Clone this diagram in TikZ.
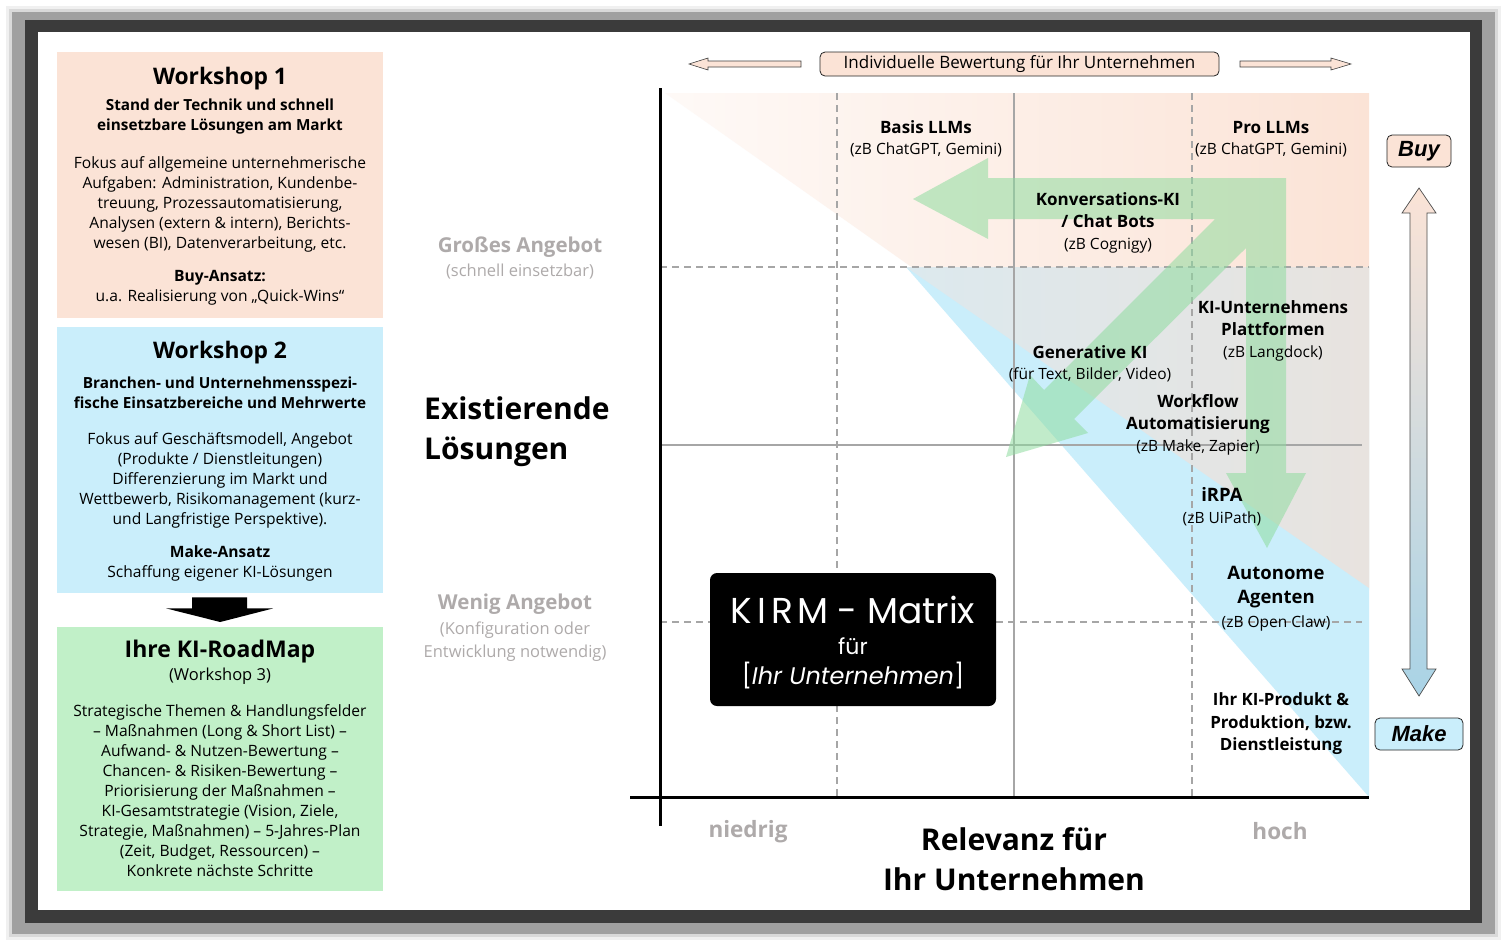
\documentclass[tikz,border=0pt]{standalone}
\usepackage{fontspec}
\setmainfont{Open Sans}
\newfontfamily\popfont{Poppins}
\newfontfamily\arialfont{Liberation Sans}
\usetikzlibrary{positioning,calc}
\definecolor{framedark}{HTML}{3B3B3B}
\definecolor{shadowgray}{HTML}{A0A0A0}
\definecolor{peachbg}{HTML}{FBE3D6}
\definecolor{bluebg}{HTML}{CAEEFB}
\definecolor{greenbg}{HTML}{C1F0C8}
\definecolor{gridgray}{HTML}{A6A6A6}
\definecolor{softgray}{HTML}{AEAAAA}
\definecolor{arrowgreen}{HTML}{8FDC9F}
\definecolor{makeblue}{HTML}{A9D3E6}
\newcommand{\fs}[2]{\fontsize{#1}{#2}\selectfont}
\newcommand{\msub}[1]{{\fs{15.5}{22}\mdseries #1}}
\tikzset{
  wsbox/.style={minimum width=326pt,inner sep=0pt,anchor=north west},
  wstitle/.style={font=\fs{22.8}{28}\bfseries,inner sep=0pt,yshift=-2.5pt},
  wssub/.style={font=\fs{15.3}{20}\bfseries,align=center,inner sep=0pt,yshift=-2.5pt},
  wsbody/.style={font=\fs{15.6}{20},align=center,inner sep=0pt,yshift=-2pt},
  sidelab/.style={font=\fs{20.5}{24}\bfseries,text=softgray,inner sep=0pt,yshift=-2pt},
  sidesub/.style={font=\fs{16.5}{23},text=softgray,align=center,inner sep=0pt,yshift=-1.5pt},
  biglab/.style={font=\fs{30}{40}\bfseries,align=left,inner sep=0pt},
  mlab/.style={font=\fs{17}{22}\bfseries,align=center,inner sep=0pt,yshift=-2pt},
  gridd/.style={gridgray,line width=1.5pt,dash pattern=on 7pt off 5pt},
  grids/.style={gridgray,line width=1.5pt},
  outarrow/.style={draw=black!75,line width=0.6pt,fill=peachbg},
  tagbox/.style={draw=black!85,rounded corners=5pt,line width=0.8pt,inner sep=0pt},
}
\begin{document}
\begin{tikzpicture}[x=1pt,y=-1pt]
  \useasboundingbox (0,0) rectangle (1507,943);
  % shadow and frame
  \fill[gray!12] (6,6) rectangle (1501,940);
  \fill[gray!30] (9,9) rectangle (1498,937);
  \fill[shadowgray] (12,12) rectangle (1495,934);
  \fill[framedark] (25,20) rectangle (1482,923);
  \fill[white] (38,32) rectangle (1470,910);

  % workshop column
  \node[wsbox,fill=peachbg,minimum height=266pt] (ws1) at (57,52) {};
  \node[wsbox,fill=bluebg,minimum height=266pt] (ws2) at (57,327) {};
  \node[wsbox,fill=greenbg,minimum height=264pt] (ws3) at (57,627) {};
  \node[wstitle] (ws1t) at (220,76) {Workshop 1};
  \node[wssub] (ws1s) at (220,114) {Stand der Technik und schnell\\einsetzbare Lösungen am Markt};
  \node[wsbody] (ws1b) at (220,202) {Fokus auf allgemeine unternehmerische\\Aufgaben: Administration, Kundenbe-\\treuung, Prozessautomatisierung,\\Analysen (extern \& intern), Berichts-\\wesen (BI), Datenverarbeitung, etc.};
  \node[wsbody] (ws1a) at (220,286) {\textbf{Buy-Ansatz:}\\u.a. Realisierung von „Quick-Wins“};
  \node[wstitle] (ws2t) at (220,350) {Workshop 2};
  \node[wssub] (ws2s) at (220,390) {Branchen- und Unternehmensspezi-\\fische Einsatzbereiche und Mehrwerte};
  \node[wsbody] (ws2b) at (220,478) {Fokus auf Geschäftsmodell, Angebot\\(Produkte / Dienstleitungen)\\Differenzierung im Markt und\\Wettbewerb, Risikomanagement (kurz-\\und Langfristige Perspektive).};
  \node[wsbody] (ws2a) at (220,561.5) {\textbf{Make-Ansatz}\\Schaffung eigener KI-Lösungen};
  \node[wstitle,font=\fs{23}{28}\bfseries] (ws3t) at (220,649) {Ihre KI-RoadMap};
  \node[wsbody,font=\fs{16.5}{20}] (ws3s) at (220,674) {(Workshop 3)};
  \node[wsbody] (ws3b) at (220,789) {Strategische Themen \& Handlungsfelder\\– Maßnahmen (Long \& Short List) –\\Aufwand- \& Nutzen-Bewertung –\\Chancen- \& Risiken-Bewertung –\\Priorisierung der Maßnahmen –\\KI-Gesamtstrategie (Vision, Ziele,\\Strategie, Maßnahmen) – 5-Jahres-Plan\\(Zeit, Budget, Ressourcen) –\\Konkrete nächste Schritte};
  \fill[black] ($(ws2.south)+(-28,4)$) -- ++(55,0) -- ++(0,11) -- ++(26,0)
    -- ($(ws3.north)+(0,-5)$) -- ($(ws2.south)+(-54,15)$) -- ++(26,0) -- cycle;

  % middle column
  \node[sidelab] (gross) at (520,245) {Großes Angebot};
  \node[sidesub] (grosss) at (520,270) {(schnell einsetzbar)};
  \node[biglab,anchor=west,yshift=-4pt] (exist) at (424,428) {Existierende\\Lösungen};
  \node[sidelab] (wenig) at (515,602) {Wenig Angebot};
  \node[sidesub] (wenigs) at (515,640) {(Konfiguration oder\\Entwicklung notwendig)};

  % matrix background
  \shade[left color=peachbg!20,right color=peachbg] (665,93) -- (1369,93) -- (1369,590) -- cycle;
  \fill[bluebg] (906,267) -- (1369,267) -- (1369,797) -- cycle;
  \shade[left color={rgb,255:red,220;green,233;blue,238},right color={rgb,255:red,232;green,227;blue,223}]
    (906,267) -- (1369,267) -- (1369,588) -- cycle;
  % grid
  \draw[gridd] (837,93) -- (837,797);
  \draw[grids] (1014,93) -- (1014,797);
  \draw[gridd] (1192,93) -- (1192,797);
  \draw[gridd] (660,267) -- (1369,267);
  \draw[grids] (660,445) -- (1362,445);
  \draw[gridd] (660,622) -- (1362,622);
  % green path arrows
  \fill[arrowgreen,fill opacity=0.55] (1286,178) -- (1286,473) -- (1306,473) -- (1267,548)
    -- (1226,473) -- (1246,473) -- (1246,248) -- (1074,419) -- (1088,433) -- (1006,457)
    -- (1030,375) -- (1044,390) -- (1215,219) -- (988,219) -- (988,239) -- (913,199)
    -- (988,158) -- (988,178) -- cycle;
  % axes
  \draw[line width=3pt] (660,88) -- (660,826);
  \draw[line width=3pt] (630,797) -- (1369,797);

  % matrix labels
  \node[mlab,font=\fs{17}{21}\bfseries] (basis) at (926,137) {Basis LLMs\\\msub{(zB ChatGPT, Gemini)}};
  \node[mlab,font=\fs{17}{21}\bfseries] (pro) at (1271,137) {Pro LLMs\\\msub{(zB ChatGPT, Gemini)}};
  \node[mlab] (konv) at (1108,221) {Konversations-KI\\/ Chat Bots\\\msub{(zB Cognigy)}};
  \node[mlab] (platt) at (1273,329) {KI-Unternehmens\\Plattformen\\\msub{(zB Langdock)}};
  \node[mlab,font=\fs{17}{21}\bfseries] (genki) at (1090,362) {Generative KI\\\msub{(für Text, Bilder, Video)}};
  \node[mlab] (workfl) at (1198,423) {Workflow\\Automatisierung\\\msub{(zB Make, Zapier)}};
  \node[mlab,font=\fs{18.5}{22}\bfseries] (irpa) at (1222,505) {iRPA\\\msub{(zB UiPath)}};
  \node[mlab,font=\fs{18.5}{24}\bfseries] (agent) at (1276,597) {Autonome\\Agenten\\\msub{(zB Open Claw)}};
  \node[mlab,font=\fs{16.9}{22.5}\bfseries] (produkt) at (1281,722) {Ihr KI-Produkt \&\\Produktion, bzw.\\Dienstleistung};

  % KIRM box
  \node[fill=black,rounded corners=7pt,minimum width=286pt,minimum height=133pt,inner sep=0pt] (kirm) at (853,639.5) {};
  \node[text=white,font=\popfont\fs{36}{40},inner sep=0pt] (kirmt) at (853,610) {K\hspace{5pt}I\hspace{5pt}R\hspace{4pt}M - Matrix};
  \node[text=white,font=\popfont\fs{22}{26},inner sep=0pt] (kirmf) at (853,646) {für};
  \node[text=white,font=\popfont\fs{24}{28},inner sep=0pt] (kirmu) at (853,676) {[\textit{Ihr Unternehmen}]};

  % bottom axis labels
  \node[sidelab,font=\fs{22.5}{24}\bfseries,yshift=-1pt] (low) at (748,829) {niedrig};
  \node[sidelab,font=\fs{22.5}{24}\bfseries] (high) at (1280,829) {hoch};
  \node[biglab,align=center] (relev) at (1014,859) {Relevanz für\\Ihr Unternehmen};

  % top scale
  \node[tagbox,fill=peachbg,minimum width=399pt,minimum height=24pt,font=\fs{17}{18}] (indiv) at (1019.5,64) {Individuelle Bewertung für Ihr Unternehmen};
  \draw[outarrow] (801,61) -- (708,61) -- (708,58) -- (689,64) -- (708,70) -- (708,67) -- (801,67) -- cycle;
  \draw[outarrow] (1240,61) -- (1331,61) -- (1331,58) -- (1351,64) -- (1331,70) -- (1331,67) -- (1240,67) -- cycle;

  % buy / make scale
  \node[tagbox,fill=peachbg,minimum width=64pt,minimum height=32pt,font=\arialfont\fs{22}{24}\bfseries\itshape] (buy) at (1419,151) {Buy};
  \node[tagbox,fill=bluebg,minimum width=88pt,minimum height=32pt,font=\arialfont\fs{22}{24}\bfseries\itshape] (make) at (1419,734) {Make};
  \shadedraw[top color=peachbg,bottom color=makeblue,draw=black!70,line width=0.7pt]
    (1419,188) -- (1436,213) -- (1427,213) -- (1427,669) -- (1436,669) -- (1419,696)
    -- (1402,669) -- (1410,669) -- (1410,213) -- (1402,213) -- cycle;
\end{tikzpicture}
\end{document}
